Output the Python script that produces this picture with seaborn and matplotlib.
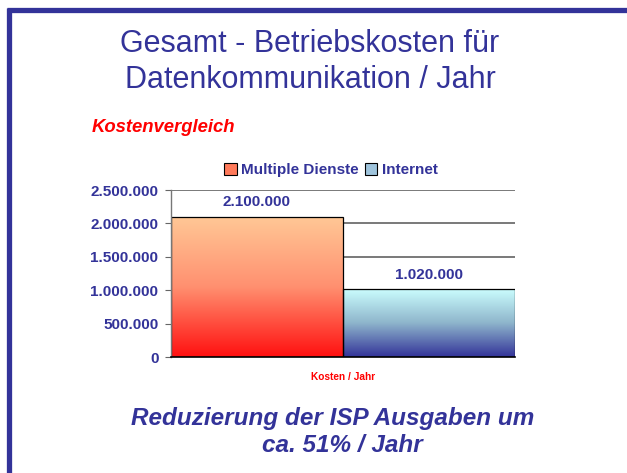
import numpy as np
import pandas as pd
import matplotlib
matplotlib.use("Agg")
import matplotlib.pyplot as plt
from matplotlib.colors import LinearSegmentedColormap
from matplotlib.lines import Line2D
from matplotlib.patches import Patch
import seaborn as sns

# Data
category = ["Kosten / Jahr"]
series = ["Multiple Dienste", "Internet"]
costs = [2100000, 1020000]
y_ticks = [0, 500000, 1000000, 1500000, 2000000, 2500000]

BLUE = "#333399"
RED = "#ff0000"

# gradient colours (bottom -> top) for each series
gradients = {
    "Multiple Dienste": ["#ff1010", "#ff9070", "#ffc896"],
    "Internet": ["#333399", "#8fb6cc", "#ccffff"],
}
legend_colors = {"Multiple Dienste": "#ff7a5a", "Internet": "#9fc4dc"}

df = pd.DataFrame({"Kategorie": category * len(series), "Serie": series, "Kosten": costs})


def fmt_de(v):
    return f"{int(v):,}".replace(",", ".")


sns.set_style("white")
plt.rcParams["font.family"] = ["Liberation Sans", "DejaVu Sans"]

fig = plt.figure(figsize=(6.27, 4.73), dpi=100)
ax = fig.add_axes([0.2727, 0.2452, 0.5486, 0.3531])

sns.barplot(data=df, x="Kategorie", y="Kosten", hue="Serie", hue_order=series,
            width=0.8, ax=ax, legend=False, edgecolor="black", linewidth=0.9)

ax.set_xlim(-0.4, 0.4)
ax.set_ylim(0, 2500000)
ax.set_yticks(y_ticks)
ax.set_yticklabels([fmt_de(t) for t in y_ticks], fontsize=11, fontweight="bold", color=BLUE)
ax.yaxis.grid(True, color="#555555", linewidth=1.1)
ax.set_axisbelow(True)
ax.tick_params(axis="y", length=4, width=0.8, color="#666666", pad=5, left=True)
ax.tick_params(axis="x", length=0)
ax.set_xticklabels([])
ax.set_xlabel(category[0], fontsize=7.3, fontweight="bold", color=RED, labelpad=7)
ax.set_ylabel("")
for side in ["top", "right"]:
    ax.spines[side].set_visible(False)
ax.spines["left"].set_color("#777777")
ax.spines["left"].set_linewidth(1.0)
ax.spines["bottom"].set_color("black")
ax.spines["bottom"].set_linewidth(1.2)

# gradient fills clipped to the bars
for patch, name in zip(ax.patches, series):
    x0, y0 = patch.get_x(), patch.get_y()
    w, h = patch.get_width(), patch.get_height()
    cmap = LinearSegmentedColormap.from_list(name, gradients[name])
    grad = np.linspace(0, 1, 256).reshape(-1, 1)
    im = ax.imshow(grad, cmap=cmap, origin="lower", aspect="auto",
                   extent=[x0, x0 + w, y0, y0 + h], zorder=patch.get_zorder() - 0.1)
    im.set_clip_path(patch)
    patch.set_facecolor("none")
ax.set_xlim(-0.4, 0.4)
ax.set_ylim(0, 2500000)

for patch, v in zip(ax.patches, costs):
    ax.text(patch.get_x() + patch.get_width() / 2, v + 215000, fmt_de(v),
            ha="center", va="center", fontsize=11, fontweight="bold", color=BLUE)

handles = [Patch(facecolor=legend_colors[s], edgecolor="black", linewidth=0.8) for s in series]
leg = fig.legend(handles, series, loc="center", bbox_to_anchor=(0.528, 1 - 170 / 473), ncol=2,
                 frameon=False, handlelength=0.8, handleheight=0.8, handletextpad=0.3,
                 columnspacing=0.4, prop={"weight": "bold", "size": 11})
for t in leg.get_texts():
    t.set_color(BLUE)

# slide decorations
fig.add_artist(Line2D([0.0112, 1.0], [1 - 10.5 / 473] * 2, color=BLUE, linewidth=3.8,
                      solid_capstyle="butt"))
fig.add_artist(Line2D([8.5 / 627] * 2, [0, 1 - 8 / 473], color=BLUE, linewidth=3.8,
                      solid_capstyle="butt"))

fig.text(310 / 627, 1 - 44 / 473, "Gesamt - Betriebskosten für", ha="center", va="center",
         fontsize=22, color=BLUE)
fig.text(310 / 627, 1 - 80 / 473, "Datenkommunikation / Jahr", ha="center", va="center",
         fontsize=22, color=BLUE)
fig.text(92 / 627, 1 - 127 / 473, "Kostenvergleich", ha="left", va="center",
         fontsize=13.3, fontweight="bold", fontstyle="italic", color=RED)
fig.text(333 / 627, 1 - 418 / 473, "Reduzierung der ISP Ausgaben um", ha="center",
         va="center", fontsize=17.5, fontweight="bold", fontstyle="italic", color=BLUE)
fig.text(342 / 627, 1 - 445 / 473, "ca. 51% / Jahr", ha="center", va="center",
         fontsize=17.5, fontweight="bold", fontstyle="italic", color=BLUE)

fig.savefig("out.png", dpi=100)
